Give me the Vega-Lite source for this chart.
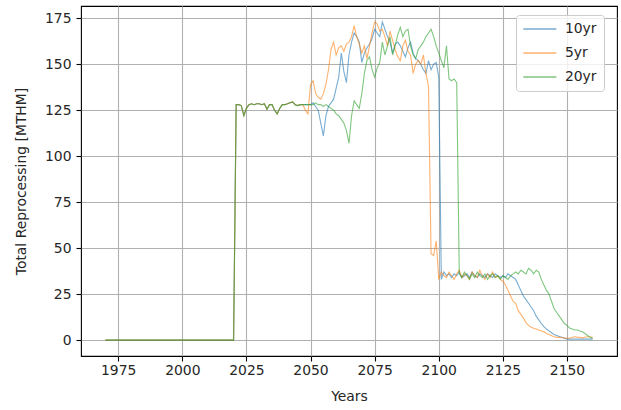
{
  "$schema": "https://vega.github.io/schema/vega-lite/v6.json",
  "width": 536,
  "height": 350,
  "autosize": "none",
  "padding": {"left": 81, "top": 6, "right": 4, "bottom": 54},
  "background": "white",
  "config": {
    "font": "DejaVu Sans",
    "view": {"stroke": "#000000", "strokeWidth": 1.1},
    "axis": {
      "domain": false,
      "grid": true,
      "gridColor": "#b0b0b0",
      "gridWidth": 1.1,
      "tickColor": "#000000",
      "tickWidth": 1.1,
      "tickSize": 5,
      "labelPadding": 4,
      "labelFontSize": 13.9,
      "labelColor": "#262626",
      "titleFontSize": 13.9,
      "titleFontWeight": "normal",
      "titleColor": "#262626"
    }
  },
  "data": {
    "values": [
      {"year": 1970, "10yr": 0, "5yr": 0, "20yr": 0},
      {"year": 2020, "10yr": 0, "5yr": 0, "20yr": 0},
      {"year": 2021, "10yr": 128, "5yr": 128, "20yr": 128},
      {"year": 2022, "10yr": 128, "5yr": 128, "20yr": 128},
      {"year": 2023, "10yr": 127.5, "5yr": 127.5, "20yr": 127.5},
      {"year": 2024, "10yr": 122, "5yr": 122, "20yr": 122},
      {"year": 2025, "10yr": 126, "5yr": 126, "20yr": 126},
      {"year": 2026, "10yr": 128, "5yr": 128, "20yr": 128},
      {"year": 2027, "10yr": 128.5, "5yr": 128.5, "20yr": 128.5},
      {"year": 2028, "10yr": 128, "5yr": 128, "20yr": 128},
      {"year": 2029, "10yr": 128.5, "5yr": 128.5, "20yr": 128.5},
      {"year": 2030, "10yr": 128.5, "5yr": 128.5, "20yr": 128.5},
      {"year": 2031, "10yr": 128, "5yr": 128, "20yr": 128},
      {"year": 2032, "10yr": 128.5, "5yr": 128.5, "20yr": 128.5},
      {"year": 2033, "10yr": 125.5, "5yr": 125.5, "20yr": 125.5},
      {"year": 2034, "10yr": 128, "5yr": 128, "20yr": 128},
      {"year": 2035, "10yr": 128, "5yr": 128, "20yr": 128},
      {"year": 2036, "10yr": 125, "5yr": 125, "20yr": 125},
      {"year": 2037, "10yr": 123, "5yr": 123, "20yr": 123},
      {"year": 2038, "10yr": 126, "5yr": 126, "20yr": 126},
      {"year": 2039, "10yr": 128, "5yr": 128, "20yr": 128},
      {"year": 2040, "10yr": 128, "5yr": 128, "20yr": 128},
      {"year": 2041, "10yr": 128.5, "5yr": 128.5, "20yr": 128.5},
      {"year": 2042, "10yr": 129, "5yr": 129, "20yr": 129},
      {"year": 2043, "10yr": 129.5, "5yr": 129.5, "20yr": 129.5},
      {"year": 2044, "10yr": 128, "5yr": 128, "20yr": 128},
      {"year": 2045, "10yr": 127.5, "5yr": 127.5, "20yr": 127.5},
      {"year": 2046, "10yr": 128, "5yr": 128, "20yr": 128},
      {"year": 2047, "10yr": 128, "5yr": 128, "20yr": 128},
      {"year": 2048, "10yr": 128, "5yr": 125, "20yr": 128},
      {"year": 2049, "10yr": 128, "5yr": 123, "20yr": 128},
      {"year": 2050, "10yr": 128, "5yr": 139, "20yr": 128},
      {"year": 2051, "10yr": 129, "5yr": 141, "20yr": 128},
      {"year": 2052, "10yr": 127, "5yr": 134, "20yr": 129},
      {"year": 2053, "10yr": 125, "5yr": 132, "20yr": 128},
      {"year": 2054, "10yr": 118, "5yr": 131, "20yr": 128},
      {"year": 2055, "10yr": 111, "5yr": 134, "20yr": 127},
      {"year": 2056, "10yr": 122, "5yr": 139, "20yr": 128},
      {"year": 2057, "10yr": 127, "5yr": 147, "20yr": 127},
      {"year": 2058, "10yr": 129, "5yr": 158, "20yr": 126},
      {"year": 2059, "10yr": 131, "5yr": 162, "20yr": 125},
      {"year": 2060, "10yr": 137, "5yr": 155, "20yr": 123},
      {"year": 2061, "10yr": 143, "5yr": 159, "20yr": 122},
      {"year": 2062, "10yr": 156, "5yr": 160, "20yr": 120},
      {"year": 2063, "10yr": 146, "5yr": 157, "20yr": 118},
      {"year": 2064, "10yr": 140, "5yr": 161, "20yr": 114},
      {"year": 2065, "10yr": 155, "5yr": 162, "20yr": 107},
      {"year": 2066, "10yr": 162, "5yr": 165, "20yr": 122},
      {"year": 2067, "10yr": 167, "5yr": 171, "20yr": 130},
      {"year": 2068, "10yr": 165, "5yr": 165, "20yr": 128},
      {"year": 2069, "10yr": 162, "5yr": 161, "20yr": 126},
      {"year": 2070, "10yr": 151, "5yr": 156, "20yr": 134},
      {"year": 2071, "10yr": 156, "5yr": 160, "20yr": 145},
      {"year": 2072, "10yr": 159, "5yr": 153, "20yr": 152},
      {"year": 2073, "10yr": 161, "5yr": 160, "20yr": 154},
      {"year": 2074, "10yr": 164, "5yr": 167, "20yr": 147},
      {"year": 2075, "10yr": 169, "5yr": 173, "20yr": 143},
      {"year": 2076, "10yr": 167, "5yr": 172, "20yr": 148},
      {"year": 2077, "10yr": 165, "5yr": 168, "20yr": 151},
      {"year": 2078, "10yr": 173, "5yr": 169, "20yr": 162},
      {"year": 2079, "10yr": 169, "5yr": 165, "20yr": 155},
      {"year": 2080, "10yr": 165, "5yr": 160, "20yr": 160},
      {"year": 2081, "10yr": 162, "5yr": 168, "20yr": 165},
      {"year": 2082, "10yr": 156, "5yr": 163, "20yr": 155},
      {"year": 2083, "10yr": 161, "5yr": 158, "20yr": 160},
      {"year": 2084, "10yr": 162, "5yr": 154, "20yr": 166},
      {"year": 2085, "10yr": 160, "5yr": 152, "20yr": 170},
      {"year": 2086, "10yr": 157, "5yr": 160, "20yr": 165},
      {"year": 2087, "10yr": 154, "5yr": 163, "20yr": 168},
      {"year": 2088, "10yr": 159, "5yr": 157, "20yr": 169},
      {"year": 2089, "10yr": 162, "5yr": 155, "20yr": 160},
      {"year": 2090, "10yr": 156, "5yr": 145, "20yr": 155},
      {"year": 2091, "10yr": 153, "5yr": 150, "20yr": 153},
      {"year": 2092, "10yr": 152, "5yr": 152, "20yr": 158},
      {"year": 2093, "10yr": 150, "5yr": 150, "20yr": 160},
      {"year": 2094, "10yr": 147, "5yr": 155, "20yr": 162},
      {"year": 2095, "10yr": 145, "5yr": 145, "20yr": 165},
      {"year": 2096, "10yr": 152, "5yr": 138, "20yr": 167},
      {"year": 2097, "10yr": 147, "5yr": 47, "20yr": 169},
      {"year": 2098, "10yr": 150, "5yr": 46, "20yr": 165},
      {"year": 2099, "10yr": 151, "5yr": 54, "20yr": 160},
      {"year": 2100, "10yr": 143, "5yr": 33, "20yr": 156},
      {"year": 2101, "10yr": 33, "5yr": 37, "20yr": 152},
      {"year": 2102, "10yr": 37, "5yr": 35, "20yr": 148},
      {"year": 2103, "10yr": 35, "5yr": 34, "20yr": 160},
      {"year": 2104, "10yr": 36, "5yr": 37, "20yr": 142},
      {"year": 2105, "10yr": 34, "5yr": 35, "20yr": 141},
      {"year": 2106, "10yr": 36, "5yr": 33, "20yr": 142},
      {"year": 2107, "10yr": 35, "5yr": 36, "20yr": 140},
      {"year": 2108, "10yr": 37, "5yr": 38, "20yr": 36},
      {"year": 2109, "10yr": 34, "5yr": 34, "20yr": 34},
      {"year": 2110, "10yr": 35, "5yr": 36, "20yr": 37},
      {"year": 2111, "10yr": 36, "5yr": 35, "20yr": 35},
      {"year": 2112, "10yr": 34, "5yr": 33, "20yr": 33},
      {"year": 2113, "10yr": 37, "5yr": 37, "20yr": 36},
      {"year": 2114, "10yr": 35, "5yr": 35, "20yr": 34},
      {"year": 2115, "10yr": 34, "5yr": 34, "20yr": 37},
      {"year": 2116, "10yr": 36, "5yr": 38, "20yr": 35},
      {"year": 2117, "10yr": 35, "5yr": 35, "20yr": 34},
      {"year": 2118, "10yr": 34, "5yr": 33, "20yr": 36},
      {"year": 2119, "10yr": 36, "5yr": 36, "20yr": 33},
      {"year": 2120, "10yr": 35, "5yr": 34, "20yr": 35},
      {"year": 2121, "10yr": 34, "5yr": 37, "20yr": 36},
      {"year": 2122, "10yr": 36, "5yr": 34, "20yr": 34},
      {"year": 2123, "10yr": 35, "5yr": 35, "20yr": 35},
      {"year": 2124, "10yr": 34, "5yr": 33, "20yr": 33},
      {"year": 2125, "10yr": 35, "5yr": 32, "20yr": 35},
      {"year": 2126, "10yr": 34, "5yr": 30, "20yr": 34},
      {"year": 2127, "10yr": 36, "5yr": 27, "20yr": 33},
      {"year": 2128, "10yr": 35, "5yr": 24, "20yr": 35},
      {"year": 2129, "10yr": 34, "5yr": 21, "20yr": 36},
      {"year": 2130, "10yr": 33, "5yr": 20, "20yr": 37},
      {"year": 2131, "10yr": 30, "5yr": 16, "20yr": 36},
      {"year": 2132, "10yr": 27, "5yr": 14, "20yr": 38},
      {"year": 2133, "10yr": 24, "5yr": 12, "20yr": 37},
      {"year": 2134, "10yr": 22, "5yr": 9.5, "20yr": 36},
      {"year": 2135, "10yr": 20, "5yr": 8, "20yr": 39},
      {"year": 2136, "10yr": 18, "5yr": 7, "20yr": 38},
      {"year": 2137, "10yr": 16, "5yr": 6.4, "20yr": 36},
      {"year": 2138, "10yr": 13, "5yr": 6, "20yr": 38},
      {"year": 2139, "10yr": 11, "5yr": 5.5, "20yr": 37},
      {"year": 2140, "10yr": 9, "5yr": 5, "20yr": 33},
      {"year": 2141, "10yr": 7.3, "5yr": 4.5, "20yr": 30},
      {"year": 2142, "10yr": 6, "5yr": 3.6, "20yr": 27},
      {"year": 2143, "10yr": 5, "5yr": 3, "20yr": 25},
      {"year": 2144, "10yr": 4, "5yr": 2.3, "20yr": 21},
      {"year": 2145, "10yr": 3, "5yr": 1.8, "20yr": 17},
      {"year": 2146, "10yr": 2.5, "5yr": 1.5, "20yr": 15},
      {"year": 2147, "10yr": 2, "5yr": 1.5, "20yr": 13},
      {"year": 2148, "10yr": 1.5, "5yr": 1.3, "20yr": 11},
      {"year": 2149, "10yr": 1, "5yr": 1.2, "20yr": 9},
      {"year": 2150, "10yr": 0.5, "5yr": 1, "20yr": 8},
      {"year": 2151, "10yr": 0.5, "5yr": 1, "20yr": 6.5},
      {"year": 2152, "10yr": 0.5, "5yr": 1.5, "20yr": 6},
      {"year": 2153, "10yr": 0.5, "5yr": 1.8, "20yr": 5.5},
      {"year": 2154, "10yr": 0.5, "5yr": 1.6, "20yr": 5.5},
      {"year": 2155, "10yr": 0.5, "5yr": 1.5, "20yr": 5},
      {"year": 2156, "10yr": 0.5, "5yr": 1.2, "20yr": 4.5},
      {"year": 2157, "10yr": 0.5, "5yr": 1.5, "20yr": 3.6},
      {"year": 2158, "10yr": 0.5, "5yr": 1.8, "20yr": 2.5},
      {"year": 2159, "10yr": 0.5, "5yr": 1.8, "20yr": 1.5},
      {"year": 2160, "10yr": 0.5, "5yr": 1.5, "20yr": 0.9}
    ]
  },
  "transform": [
    {"fold": ["10yr", "5yr", "20yr"], "as": ["series", "value"]}
  ],
  "mark": {"type": "line", "strokeWidth": 1.1, "opacity": 0.6, "clip": true},
  "encoding": {
    "x": {
      "field": "year",
      "type": "quantitative",
      "scale": {"domain": [1960.5, 2169.5], "nice": false, "zero": false},
      "axis": {"title": "Years", "values": [1975, 2000, 2025, 2050, 2075, 2100, 2125, 2150], "format": "d", "labelPadding": 2, "titlePadding": 13}
    },
    "y": {
      "field": "value",
      "type": "quantitative",
      "scale": {"domain": [-8.65, 181.65], "nice": false, "zero": false},
      "axis": {"title": "Total Reprocessing [MTHM]", "values": [0, 25, 50, 75, 100, 125, 150, 175], "labelPadding": 5, "titlePadding": 16}
    },
    "color": {
      "field": "series",
      "type": "nominal",
      "sort": ["10yr", "5yr", "20yr"],
      "scale": {"domain": ["10yr", "5yr", "20yr"], "range": ["#1f77b4", "#ff7f0e", "#2ca02c"]},
      "legend": {
        "title": null,
        "orient": "none",
        "legendX": 435,
        "legendY": 9,
        "padding": 7,
        "rowPadding": 9,
        "symbolType": "M-1.2,0H4.8",
        "symbolSize": 121,
        "symbolStrokeWidth": 1.4,
        "symbolOpacity": 0.6,
        "labelFontSize": 13.9,
        "labelColor": "#262626",
        "labelOffset": 28,
        "fillColor": "rgba(255,255,255,0.8)",
        "strokeColor": "#cccccc",
        "cornerRadius": 3
      }
    }
  }
}
